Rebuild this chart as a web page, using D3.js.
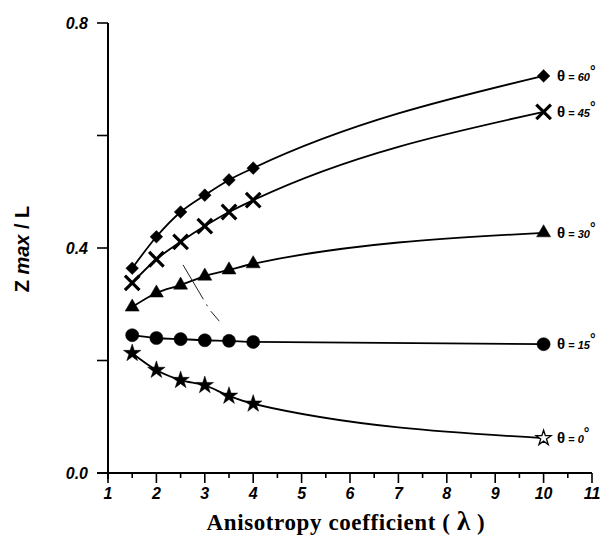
<!DOCTYPE html>
<html>
<head>
<meta charset="utf-8">
<script src="https://cdn.jsdelivr.net/npm/d3@7"></script>
<style>
  body { margin: 0; background: #fff; }
  svg { display: block; }
</style>
</head>
<body>
<script>
// anisotropy coefficient values (x)
const lambdas = [1.5, 2, 2.5, 3, 3.5, 4, 10];
// Zmax / L for each angle
const theta60 = [0.364, 0.420, 0.464, 0.494, 0.521, 0.542, 0.706];
const theta45 = [0.338, 0.380, 0.411, 0.439, 0.464, 0.485, 0.642];
const theta30 = [0.295, 0.320, 0.334, 0.350, 0.361, 0.372, 0.427];
const theta15 = [0.245, 0.240, 0.238, 0.236, 0.235, 0.233, 0.229];
const theta0  = [0.213, 0.183, 0.165, 0.156, 0.137, 0.123, 0.062];
const seriesNames = ['60', '45', '30', '15', '0'];
const xTicks = [1, 2, 3, 4, 5, 6, 7, 8, 9, 10, 11];
const yTicks = [0, 0.4, 0.8];
// stray dash-dot scan mark (data units)
const strayMark = [[2.55, 0.37], [3.1, 0.29], [3.3, 0.27]];

const width = 609, height = 545;
const svg = d3.select('body').append('svg')
    .attr('width', width)
    .attr('height', height);

const x = d3.scaleLinear().domain([1, 11]).range([108, 592]);
const y = d3.scaleLinear().domain([0, 0.8]).range([473, 23]);

// axes
const xAxis = svg.append('g');
xAxis.append('line')
    .attr('x1', 97).attr('x2', x(11))
    .attr('y1', y(0)).attr('y2', y(0))
    .attr('stroke', '#000').attr('stroke-width', 2);
d3.range(1, 11.01, 0.5).forEach(v => {
    let major = Number.isInteger(v);
    xAxis.append('line')
        .attr('x1', x(v)).attr('x2', x(v))
        .attr('y1', y(0)).attr('y2', y(0) + (major ? 10 : 5))
        .attr('stroke', '#000').attr('stroke-width', 1.6);
});
xAxis.selectAll('text.xt')
    .data(xTicks)
    .enter().append('text')
    .attr('class', 'xt')
    .attr('x', d => x(d))
    .attr('y', 499)
    .attr('text-anchor', 'middle')
    .style('font-family', 'Liberation Sans, Arial, sans-serif')
    .style('font-weight', 'bold')
    .style('font-style', 'italic')
    .style('font-size', '16px')
    .text(d => d);

const yAxis = svg.append('g');
yAxis.append('line')
    .attr('x1', x(1)).attr('x2', x(1))
    .attr('y1', y(0) + 6).attr('y2', y(0.8))
    .attr('stroke', '#000').attr('stroke-width', 2);
d3.range(0, 0.81, 0.2).forEach(v => {
    yAxis.append('line')
        .attr('x1', 97).attr('x2', x(1))
        .attr('y1', y(v)).attr('y2', y(v))
        .attr('stroke', '#000').attr('stroke-width', 1.6);
});
yAxis.selectAll('text.yt')
    .data(yTicks)
    .enter().append('text')
    .attr('class', 'yt')
    .attr('x', 88)
    .attr('y', d => y(d) + 6)
    .attr('text-anchor', 'end')
    .style('font-family', 'Liberation Sans, Arial, sans-serif')
    .style('font-weight', 'bold')
    .style('font-style', 'italic')
    .style('font-size', '16px')
    .text(d => d.toFixed(1));

// axis titles
const xTitle = svg.append('text')
    .attr('x', 346).attr('y', 530)
    .attr('text-anchor', 'middle')
    .style('font-family', 'Liberation Serif, Times New Roman, serif')
    .style('font-weight', 'bold')
    .style('font-size', '23px')
    .style('letter-spacing', '0.6px');
xTitle.append('tspan').text('Anisotropy coefficient  ( ');
xTitle.append('tspan').style('font-size', '27px').text('λ');
xTitle.append('tspan').text(' )');

const yTitle = svg.append('text')
    .attr('transform', 'translate(29,' + (y(0.4) + 1) + ') rotate(-90)')
    .attr('text-anchor', 'middle')
    .style('font-family', 'Liberation Sans, Arial, sans-serif')
    .style('font-weight', 'bold')
    .style('font-size', '20px');
yTitle.append('tspan').text('Z ');
yTitle.append('tspan').style('font-style', 'italic').text('max');
yTitle.append('tspan').text(' / L');

// curves
const allSeries = [theta60, theta45, theta30, theta15, theta0];
const line = d3.line()
    .x((d, i) => x(lambdas[i]))
    .y(d => y(d))
    .curve(d3.curveMonotoneX);

svg.append('g').selectAll('path')
    .data(allSeries)
    .enter().append('path')
    .attr('d', line)
    .attr('fill', 'none')
    .attr('stroke', '#000')
    .attr('stroke-width', 1.8);

// stray mark
svg.append('path')
    .datum(strayMark)
    .attr('d', d3.line().x(d => x(d[0])).y(d => y(d[1])))
    .attr('fill', 'none')
    .attr('stroke', '#222')
    .attr('stroke-width', 1)
    .attr('stroke-dasharray', '40,6,2,6');

// markers
const symbols = [
    { type: d3.symbolSquare, size: 80, rotate: 45, stroke: false },
    { type: d3.symbolTimes, size: 140, rotate: 0, stroke: true },
    { type: d3.symbolTriangle, size: 85, rotate: 0, stroke: false },
    { type: d3.symbolCircle, size: 135, rotate: 0, stroke: false },
    { type: d3.symbolStar, size: 95, rotate: 0, stroke: false }
];

allSeries.forEach((vals, s) => {
    let sym = symbols[s];
    let g = svg.append('g');
    vals.forEach((v, i) => {
        let openStar = (s === 4 && i === vals.length - 1);
        g.append('path')
            .attr('d', d3.symbol().type(sym.type).size(openStar ? 70 : sym.size)())
            .attr('transform', 'translate(' + x(lambdas[i]) + ',' + y(v) + ') rotate(' + sym.rotate + ')')
            .attr('fill', sym.stroke ? 'none' : (openStar ? '#fff' : '#000'))
            .attr('stroke', '#000')
            .attr('stroke-width', sym.stroke ? 3.2 : (openStar ? 1.3 : 0.5));
    });

    // series label
    let last = vals[vals.length - 1];
    let lab = svg.append('text')
        .attr('x', 557)
        .attr('y', y(last) + 5)
        .style('font-family', 'Liberation Sans, Arial, sans-serif')
        .style('font-weight', 'bold');
    lab.append('tspan').style('font-size', '15px').text('θ');
    lab.append('tspan').style('font-size', '11px').text(' = ');
    lab.append('tspan').style('font-size', '11px').style('font-style', 'italic').text(seriesNames[s]);
    lab.append('tspan').style('font-size', '14px').attr('dy', -5).text('°');
});
</script>
</body>
</html>
